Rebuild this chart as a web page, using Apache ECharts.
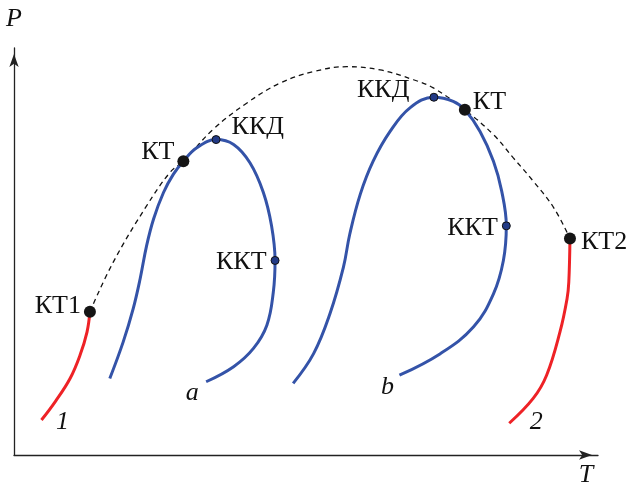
<!DOCTYPE html>
<html>
<head>
<meta charset="utf-8">
<style>
  html, body { margin: 0; padding: 0; background: #fff; }
  #chart { width: 631px; height: 488px; }
</style>
<script src="https://cdn.jsdelivr.net/npm/echarts@6/dist/echarts.min.js"></script>
</head>
<body>
<div id="chart"></div>
<script>
// Schematic P–T diagram: critical curves of mixtures, pure-component
// vapour-pressure lines and the locus of critical points (dashed).

// Vapour-pressure curve of component 1, ending at its critical point КТ1
const curve1 = [[4.7, 8.6], [7.1, 13.2], [9.6, 18.8], [11.3, 24.5], [12.5, 30.2], [13.0, 35.2]];
// Vapour-pressure curve of component 2, ending at КТ2
const curve2 = [[84.8, 7.8], [88.9, 13.9], [91.2, 19.6], [93.5, 30.3], [94.7, 38.4], [95.0, 42.5], [95.2, 53.2]];
// Critical locus from КТ1 to КТ2
const criticalLocus = [
  [13.0, 35.2], [17.0, 47.4], [22.7, 61.2], [26.7, 69.4], [29.0, 72.2], [34.1, 80.0],
  [39.9, 86.5], [45.6, 91.4], [51.3, 94.2], [57.0, 95.4], [62.7, 94.6], [68.4, 92.2],
  [71.8, 90.2], [77.2, 84.8], [82.1, 78.7], [85.5, 73.0], [88.9, 67.3], [92.4, 60.8], [95.2, 53.2]
];
// Phase envelope of mixture a
const envelopeA = [
  [16.4, 18.8], [18.7, 27.8], [20.4, 35.9], [21.6, 43.3], [22.7, 51.4], [23.9, 58.0],
  [25.6, 64.5], [27.3, 69.0], [29.0, 72.2], [31.3, 75.5], [34.6, 77.5], [37.6, 76.3],
  [40.4, 71.8], [42.7, 64.5], [44.1, 56.3], [44.7, 47.8], [44.4, 40.0], [43.3, 31.9],
  [41.0, 26.2], [37.6, 21.7], [32.9, 18.0]
];
// Phase envelope of mixture b
const envelopeB = [
  [47.8, 17.6], [51.3, 24.9], [54.1, 34.7], [56.4, 46.1], [57.5, 54.3], [59.3, 64.1],
  [61.5, 72.2], [64.4, 79.5], [67.8, 85.3], [71.9, 87.9], [75.2, 86.9], [77.2, 84.8],
  [79.8, 79.5], [82.1, 72.2], [83.5, 64.9], [84.3, 56.3], [83.8, 47.8], [82.1, 39.6],
  [78.7, 31.5], [73.0, 24.9], [66.0, 19.6]
];

// Critical points (large black dots)
const criticalNames = ['КТ1', 'КТ', 'КТ', 'КТ2'];
const criticalPoints = [[13.0, 35.2], [29.0, 72.2], [77.2, 84.8], [95.2, 53.2]];
// Cricondenbar / cricondentherm points (small dots)
const extremeNames = ['ККД', 'ККТ', 'ККД', 'ККТ'];
const extremePoints = [[34.6, 77.5], [44.7, 47.8], [71.9, 87.9], [84.3, 56.3]];
// Curve tags placed next to the lower curve ends
const curveTags = ['1', '2', 'a', 'b'];

const serif = 'Liberation Serif';
const blue = '#3453a8';
const red = '#ee2226';

// label placement for each marked point
const criticalLabelPos = [
  { position: 'left', distance: 3, offset: [0, -6] },
  { position: 'left', distance: 3, offset: [0, -9] },
  { position: 'right', distance: 2, offset: [0, -8] },
  { position: 'right', distance: 5, offset: [0, 4] }
];
const extremeLabelPos = [
  { position: 'right', distance: 11, offset: [0, -12] },
  { position: 'left', distance: 4, offset: [0, 2] },
  { position: 'left', distance: 20, offset: [0, -7] },
  { position: 'left', distance: 4, offset: [0, 2] }
];
const tagAnchors = [curve1[0], curve2[0], envelopeA[envelopeA.length - 1], envelopeB[envelopeB.length - 1]];
const tagOffsets = [[21, 2], [27, -1], [-14, 11], [-12, 12]];

const labelText = { fontFamily: serif, fontSize: 26, color: '#111' };

function curve(data, color, width, type) {
  return {
    type: 'line', data: data, smooth: 0.4, showSymbol: false, silent: true,
    lineStyle: { color: color, width: width, type: type || 'solid', cap: 'butt' },
    z: type ? 2 : 3
  };
}

const option = {
  animation: false,
  backgroundColor: '#fff',
  grid: { left: 14, right: 33, top: 48, bottom: 31 },
  xAxis: {
    type: 'value', min: 0, max: 100,
    name: 'T', nameLocation: 'end', nameGap: -12,
    nameTextStyle: { fontFamily: serif, fontStyle: 'italic', fontSize: 26, color: '#111', align: 'center', verticalAlign: 'top', padding: [7, 0, 0, 0] },
    axisLine: { show: true, symbol: ['none', 'arrow'], symbolSize: [7, 13], symbolOffset: [0, -6], lineStyle: { color: '#222', width: 1.3 } },
    axisTick: { show: false }, axisLabel: { show: false }, splitLine: { show: false }
  },
  yAxis: {
    type: 'value', min: 0, max: 100,
    name: 'P', nameLocation: 'end', nameGap: 16,
    nameTextStyle: { fontFamily: serif, fontStyle: 'italic', fontSize: 26, color: '#111', align: 'center' },
    axisLine: { show: true, symbol: ['none', 'arrow'], symbolSize: [7, 13], symbolOffset: [0, -6], lineStyle: { color: '#222', width: 1.3 } },
    axisTick: { show: false }, axisLabel: { show: false }, splitLine: { show: false }
  },
  series: [
    curve(criticalLocus, '#111', 1.3, [5, 4]),
    curve(curve1, red, 3),
    curve(curve2, red, 3),
    curve(envelopeA, blue, 3),
    curve(envelopeB, blue, 3),
    {
      type: 'scatter', symbolSize: 8, z: 4, silent: true,
      itemStyle: { color: '#223a86', borderColor: '#111', borderWidth: 1, opacity: 1 },
      data: extremePoints.map((p, i) => ({
        value: p,
        label: Object.assign({ show: true, formatter: extremeNames[i] }, labelText, extremeLabelPos[i])
      }))
    },
    {
      type: 'scatter', symbolSize: 12, z: 5, silent: true,
      itemStyle: { color: '#151515', opacity: 1 },
      data: criticalPoints.map((p, i) => ({
        value: p,
        label: Object.assign({ show: true, formatter: criticalNames[i] }, labelText, criticalLabelPos[i])
      }))
    },
    {
      type: 'scatter', symbolSize: 0, z: 5, silent: true,
      itemStyle: { opacity: 1 },
      data: tagAnchors.map((p, i) => ({
        value: p,
        label: Object.assign({ show: true, formatter: curveTags[i], position: 'inside', offset: tagOffsets[i] }, labelText, { fontStyle: 'italic' })
      }))
    }
  ]
};

const chart = echarts.init(document.getElementById('chart'), null, { renderer: 'canvas' });
chart.setOption(option);
</script>
</body>
</html>
